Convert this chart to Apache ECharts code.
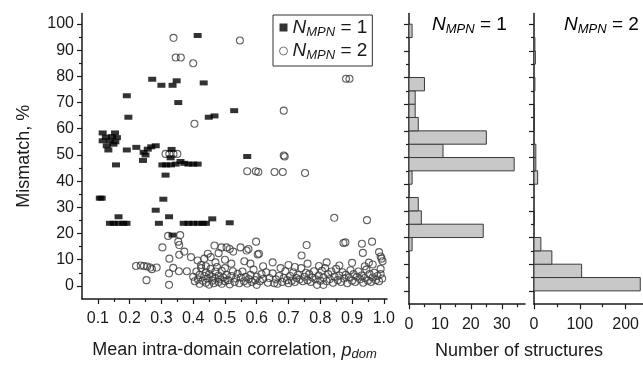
<!DOCTYPE html>
<html>
<head>
<meta charset="utf-8">
<script src="https://cdn.jsdelivr.net/npm/echarts@6/dist/echarts.min.js"></script>
<style>
  html, body { margin: 0; padding: 0; background: #fff; }
  #main { width: 643px; height: 366px; }
</style>
</head>
<body>
<div id="main"></div>
<script>
// scatter points [p_dom, mismatch %]
var mpn1Points = [
    [0.106,33.5],[0.112,33.5],
    [0.115,58.4],[0.154,58.4],[0.115,55.4],[0.138,55.4],[0.16,56.6],[0.128,53.5],[0.149,54.1],[0.133,51.9],[0.145,57],[0.155,55],[0.125,56.8],
    [0.157,46.2],[0.191,51.9],[0.221,52.9],[0.244,51],[0.257,52.2],[0.268,53.1],[0.282,53.5],[0.242,47.9],[0.25,50],
    [0.191,72.6],[0.196,64.4],[0.271,78.9],[0.30,76.6],[0.335,76.6],[0.348,78.3],[0.433,77.5],[0.353,70],[0.414,95.6],
    [0.449,64.4],[0.467,64.9],[0.529,66.9],[0.570,49.4],[0.332,52.1],[0.329,48.9],
    [0.303,46.2],[0.315,46.2],[0.33,46.2],[0.345,46.5],[0.36,47.5],[0.372,46.8],[0.385,46.5],[0.40,46.5],[0.414,46.5],
    [0.313,42.3],[0.306,33.1],[0.282,28.9],[0.324,26.4],[0.165,26.4],
    [0.138,23.9],[0.15,23.9],[0.165,23.9],[0.18,23.9],[0.19,23.9],[0.292,23.9],
    [0.37,23.9],[0.385,23.9],[0.40,23.9],[0.415,23.9],[0.43,23.9],[0.44,23.9],
    [0.46,25.6],[0.515,24.1],[0.335,19.4]
];
var mpn2Points = [
    [0.338,94.7],[0.547,93.7],[0.345,87.2],[0.361,87.2],[0.40,85],[0.404,61.9],[0.881,79.1],[0.892,79.1],
    [0.685,66.9],[0.685,49.8],[0.313,50.4],[0.325,50.4],[0.338,50.4],[0.35,50.4],
    [0.57,43.8],[0.597,43.8],[0.605,43.5],[0.656,43.5],[0.682,43.5],[0.688,49.4],[0.752,43.1],[0.844,26],[0.947,25.1],
    [0.598,16.9],[0.603,12],[0.757,15.6],[0.741,11.6],[0.873,16.4],[0.879,16.6],[0.931,16.1],[0.963,16.9],[0.934,12.6],
    [0.985,12.9],[0.99,11.2],[0.993,10.4],[0.996,9.4],[0.953,8.9],[0.796,7.6],
    [0.321,19.1],[0.359,19.4],[0.353,16.9],[0.356,15.6],[0.303,14.7],[0.325,10.4],[0.372,13.1],[0.356,11.9],
    [0.22,7.6],[0.235,7.8],[0.245,7.6],[0.255,7.4],[0.265,7.0],[0.27,6.4],[0.285,7],[0.253,2.2],[0.324,4.8],[0.324,0.4],
    [0.337,6.9],[0.355,5.6],[0.38,5.6],
    [0.393,11],[0.414,9.7],[0.435,10.4],[0.446,12.3],[0.467,15.4],[0.489,14.7],[0.505,14.7],[0.515,14.1],[0.526,13.1],
    [0.549,14.7],[0.568,13.5],[0.574,14.1],[0.561,9.4],[0.607,12.3],[0.425,8],[0.455,11],[0.47,9],[0.48,12.5],[0.5,10],[0.52,8.5],[0.44,7.5],
    [0.40,3.5],[0.405,1.8],[0.41,5.5],[0.415,2.5],[0.42,0.8],[0.42,4.2],[0.425,6.8],[0.43,2],[0.435,3.8],[0.44,1.2],
    [0.44,5.2],[0.445,2.8],[0.45,0.5],[0.45,4.5],[0.455,6.5],[0.46,2],[0.46,3.5],[0.465,1],[0.47,5.5],[0.47,2.8],
    [0.475,7.2],[0.48,1.5],[0.48,4],[0.485,2.5],[0.49,0.8],[0.49,5.8],[0.495,3.2],[0.5,1.8],[0.5,6.8],[0.505,4.2],
    [0.51,2.2],[0.515,0.6],[0.52,3.8],[0.525,5.6],[0.53,1.5],[0.535,2.8],[0.54,4.6],[0.545,1],[0.55,3.2],[0.555,5.5],
    [0.56,1.8],[0.565,3.5],[0.57,0.9],[0.575,2.6],[0.58,4.2],[0.585,1.5],[0.59,6.2],[0.595,2.2],[0.6,0.4],[0.6,3.5],
    [0.61,1.8],[0.615,4.5],[0.62,2.6],[0.63,5.2],[0.635,1.2],[0.64,3],[0.65,4.8],[0.655,1],[0.66,2.5],[0.665,0.8],
    [0.67,3.8],[0.675,6.8],[0.68,1.5],[0.685,3],[0.69,5.6],[0.695,2.2],[0.70,1],
    [0.705,3.8],[0.71,2],[0.715,5.2],[0.72,1.5],[0.725,3],[0.73,4.2],[0.735,2.5],[0.74,6.8],[0.745,1.8],[0.75,3.5],
    [0.755,5],[0.76,2.2],[0.765,4.5],[0.77,1.5],[0.775,3.2],[0.78,5.6],[0.785,2.5],[0.79,0.4],[0.795,4],[0.8,2],[0.81,0.4],
    [0.805,5.8],[0.81,3.2],[0.815,6.8],[0.82,1.8],[0.825,4.5],[0.83,2.6],[0.835,5.5],[0.84,1.2],[0.845,3.5],[0.85,6.5],
    [0.855,2.2],[0.86,4],[0.865,1.5],[0.87,5.2],[0.875,2.8],[0.88,4.2],[0.885,1],[0.89,3.2],[0.895,6],[0.9,2],
    [0.905,4.5],[0.91,1.5],[0.915,3.5],[0.92,5.5],[0.925,2.5],[0.93,4],[0.935,1.2],[0.94,3],[0.945,6.2],[0.95,2],
    [0.955,4.5],[0.96,1.5],[0.965,3.2],[0.97,5],[0.975,2.2],[0.98,3.8],[0.985,1.8],[0.99,4.5],[0.995,2.8],[0.99,6.5],
    [0.58,8.5],[0.62,7.5],[0.65,9],[0.7,8],[0.72,7.2],[0.76,8.5],[0.82,9],[0.86,7.8],[0.9,8.8],[0.94,7.5],[0.965,8.2]
];

// histogram bins (lower edge, width 5) and counts
var binStarts = [0,5,10,15,20,25,30,35,40,45,50,55,60,65,70,75,80,85,90,95];
var mpn1Counts = [0,0,0,1,24,4,3,0,1,34,11,25,3,2,2,5,0,0,0,1];
var mpn2Counts = [232,104,39,15,0,1,0,0,8,4,4,0,1,1,0,2,0,3,2,0];

// tick positions
var pTicks = [0.1,0.2,0.3,0.4,0.5,0.6,0.7,0.8,0.9,1.0];
var pMinorTicks = [0.15,0.25,0.35,0.45,0.55,0.65,0.75,0.85,0.95];
var yTicks = [0,10,20,30,40,50,60,70,80,90,100];
var yMinorTicks = [5,15,25,35,45,55,65,75,85,95];
var h1Ticks = [0,10,20,30];
var h1MinorTicks = [5,15,25,35];
var h2Ticks = [0,100,200];
var h2MinorTicks = [50,150];

var ink = '#1a1a1a';
var font = 'Liberation Sans, Arial, sans-serif';

function zip(a, b) {
    return a.map(function (v, i) { return [v, b[i]]; });
}

function mainX(grid, min, max, ticks, fmt) {
    return {
        type: 'value', gridIndex: grid, min: min, max: max, position: 'bottom',
        axisLine: { show: true, onZero: false, lineStyle: { color: ink, width: 1.5 } },
        axisTick: { show: true, inside: false, length: 5, customValues: ticks, lineStyle: { color: ink, width: 1.2 } },
        axisLabel: { show: true, customValues: ticks, margin: 12, color: ink, fontSize: 16, fontFamily: font, formatter: fmt },
        splitLine: { show: false }
    };
}
function minorX(grid, min, max, ticks) {
    return {
        type: 'value', gridIndex: grid, min: min, max: max, position: 'bottom',
        axisLine: { show: false, onZero: false },
        axisTick: { show: true, inside: false, length: 3, customValues: ticks, lineStyle: { color: ink, width: 1.2 } },
        axisLabel: { show: false },
        splitLine: { show: false }
    };
}
function mainY(grid, labels) {
    return {
        type: 'value', gridIndex: grid, min: -5, max: 104, position: 'left',
        axisLine: { show: true, onZero: false, lineStyle: { color: ink, width: 1.5 } },
        axisTick: { show: true, inside: false, length: 5, customValues: yTicks, lineStyle: { color: ink, width: 1.2 } },
        axisLabel: { show: labels, customValues: yTicks, margin: 8, color: ink, fontSize: 16, fontFamily: font },
        splitLine: { show: false }
    };
}
function minorY(grid) {
    return {
        type: 'value', gridIndex: grid, min: -5, max: 104, position: 'left',
        axisLine: { show: false, onZero: false },
        axisTick: { show: true, inside: false, length: 3, customValues: yMinorTicks, lineStyle: { color: ink, width: 1.2 } },
        axisLabel: { show: false },
        splitLine: { show: false }
    };
}

function renderBin(params, api) {
    var y0 = api.value(0);
    var cnt = api.value(1);
    if (!cnt) return null;
    var a = api.coord([0, y0]);
    var b = api.coord([cnt, y0 + 5]);
    return {
        type: 'rect',
        shape: { x: a[0], y: b[1], width: b[0] - a[0], height: a[1] - b[1] },
        style: { fill: '#c8c8c8', stroke: '#3a3a3a', lineWidth: 1 }
    };
}

var mpnRich = {
    n: { fontSize: 19, fontStyle: 'italic', fontFamily: font, color: ink },
    s: { fontSize: 13, fontStyle: 'italic', fontFamily: font, color: ink, padding: [9, 0, 0, 0] },
    t: { fontSize: 19, fontFamily: font, color: ink }
};

var myChart = echarts.init(document.getElementById('main'), null, { renderer: 'canvas' });
var xAxisName = 'Mean intra-domain correlation, {p|p}{d|dom}';
var option = {
    animation: false,
    backgroundColor: '#fff',
    grid: [
        { left: 82, top: 13.5, width: 305, height: 290.7 },
        { left: 409, top: 13.5, width: 116, height: 290.7 },
        { left: 534, top: 13.5, width: 109, height: 290.7 }
    ],
    xAxis: [
        Object.assign(mainX(0, 0.05, 1.01, pTicks, function (v) { return v.toFixed(1); }), {
            name: xAxisName, nameLocation: 'middle', nameGap: 41,
            nameTextStyle: {
                fontSize: 18, fontFamily: font, color: ink,
                rich: {
                    p: { fontSize: 18, fontStyle: 'italic', fontFamily: font, color: ink },
                    d: { fontSize: 13, fontStyle: 'italic', fontFamily: font, color: ink, padding: [8, 0, 0, 0] }
                }
            }
        }),
        minorX(0, 0.05, 1.01, pMinorTicks),
        mainX(1, 0, 37.5, h1Ticks),
        minorX(1, 0, 37.5, h1MinorTicks),
        mainX(2, 0, 238, h2Ticks),
        minorX(2, 0, 238, h2MinorTicks)
    ],
    yAxis: [
        Object.assign(mainY(0, true), {
            name: 'Mismatch, %', nameLocation: 'middle', nameGap: 49, nameRotate: 90,
            nameTextStyle: { fontSize: 18, fontFamily: font, color: ink }
        }),
        minorY(0),
        mainY(1, false),
        minorY(1),
        mainY(2, false),
        minorY(2)
    ],
    legend: {
        left: 273, top: 15, orient: 'vertical',
        padding: [3, 5, 4, 6], itemGap: 3, itemWidth: 8, itemHeight: 8,
        borderColor: '#333', borderWidth: 1,
        data: [
            { name: 'n1', icon: 'rect', itemStyle: { color: '#000' } },
            { name: 'n2', icon: 'circle', itemStyle: { color: '#fff', borderColor: '#555', borderWidth: 1 } }
        ],
        formatter: function (name) {
            return name === 'n1' ? '{n|N}{s|MPN}{t| = 1}' : '{n|N}{s|MPN}{t| = 2}';
        },
        textStyle: { rich: mpnRich }
    },
    graphic: [
        { type: 'text', x: 432, y: 14, style: { text: '{n|N}{s|MPN}{t| = 1}', rich: mpnRich } },
        { type: 'text', x: 564, y: 14, style: { text: '{n|N}{s|MPN}{t| = 2}', rich: mpnRich } },
        { type: 'text', x: 519, y: 342, style: { text: 'Number of structures', fontSize: 18, fontFamily: font, fill: ink, textAlign: 'center' } }
    ],
    series: [
        {
            name: 'n2', type: 'scatter', xAxisIndex: 0, yAxisIndex: 0,
            symbol: 'circle', symbolSize: 7,
            itemStyle: { color: 'rgba(255,255,255,0)', borderColor: '#3a3a3a', borderWidth: 1.1 },
            data: mpn2Points
        },
        {
            name: 'n1', type: 'scatter', xAxisIndex: 0, yAxisIndex: 0,
            symbol: 'rect', symbolSize: [8, 5],
            itemStyle: { color: '#000' },
            data: mpn1Points
        },
        {
            type: 'custom', xAxisIndex: 2, yAxisIndex: 2,
            encode: { x: 1, y: 0 },
            renderItem: renderBin,
            data: zip(binStarts, mpn1Counts)
        },
        {
            type: 'custom', xAxisIndex: 4, yAxisIndex: 4,
            encode: { x: 1, y: 0 },
            renderItem: renderBin,
            data: zip(binStarts, mpn2Counts)
        }
    ]
};
myChart.setOption(option);
</script>
</body>
</html>
